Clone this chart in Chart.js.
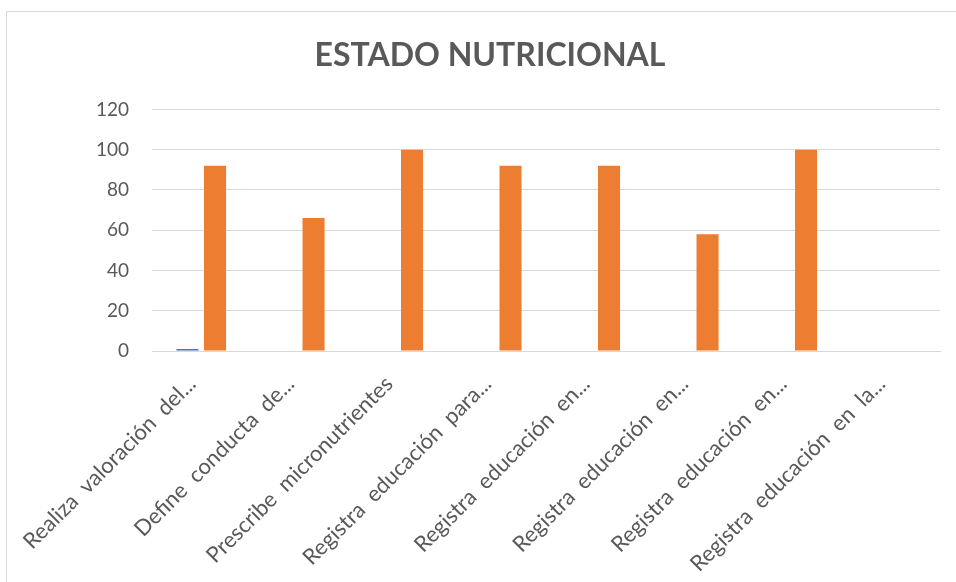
<!DOCTYPE html>
<html>
<head>
<meta charset="utf-8">
<script src="https://cdn.jsdelivr.net/npm/chart.js@4.4.0/dist/chart.umd.min.js"></script>
<style>
  html, body { margin: 0; padding: 0; background: #fff; }
  #wrap { position: relative; width: 956px; height: 582px; overflow: hidden; }
  #frame { position: absolute; left: 6px; top: 11px; width: 980px; height: 600px; border: 1px solid #d9d9d9; box-sizing: border-box; }
  canvas { position: absolute; left: 0; top: 0; }
</style>
</head>
<body>
<div id="wrap">
  <div id="frame"></div>
  <canvas id="chart_bar" width="956" height="582"></canvas>
</div>
<script>
// categorias (tal como aparecen, recortadas)
var categorias = [
  "Realiza  valoración  del...",
  "Define  conducta  de...",
  "Prescribe  micronutrientes",
  "Registra  educación  para...",
  "Registra  educación  en...",
  "Registra  educación  en...",
  "Registra  educación  en...",
  "Registra  educación  en  la..."
]
var serie1 = [1, 0, 0, 0, 0, 0, 0, 0]
var serie2 = [92, 66, 100, 92, 92, 58, 100, 0]
var ticksY = [0, 20, 40, 60, 80, 100, 120]

var gris = "#595959"

var ctx = document.getElementById("chart_bar");
var myChart = new Chart(ctx, {
    type: 'bar',
    data: {
        labels: categorias,
        datasets: [{
            label: 'Serie1',
            data: serie1,
            backgroundColor: '#4472C4',
            barPercentage: 0.8,
            categoryPercentage: 0.56
        }, {
            label: 'Serie2',
            data: serie2,
            backgroundColor: '#ED7D31',
            barPercentage: 0.8,
            categoryPercentage: 0.56
        }]
    },
    options: {
        responsive: false,
        animation: false,
        layout: { padding: { left: 40, right: 16, top: 0, bottom: 0 } },
        plugins: {
            legend: { display: false },
            tooltip: { enabled: false },
            title: {
                display: true,
                text: 'ESTADO NUTRICIONAL',
                color: gris,
                font: { family: 'Lato', size: 32, weight: 'bold' },
                padding: { top: 36, bottom: 35 }
            }
        },
        scales: {
            x: {
                grid: { display: false },
                border: { color: '#d9d9d9' },
                ticks: {
                    color: gris,
                    font: { family: 'Lato', size: 22 },
                    minRotation: 45,
                    maxRotation: 45,
                    autoSkip: false,
                    labelOffset: -9,
                    padding: 12
                },
                afterFit: function(s){ s.height = 231 }
            },
            y: {
                min: 0,
                max: 120,
                afterBuildTicks: function(s){ s.ticks = ticksY.map(function(v){ return {value: v} }) },
                grid: { color: '#d9d9d9', drawTicks: false },
                border: { display: false },
                ticks: {
                    color: gris,
                    font: { family: 'Lato', size: 19 },
                    padding: 23
                },
                afterFit: function(s){ s.width = 112 }
            }
        }
    }
});
</script>
</body>
</html>
